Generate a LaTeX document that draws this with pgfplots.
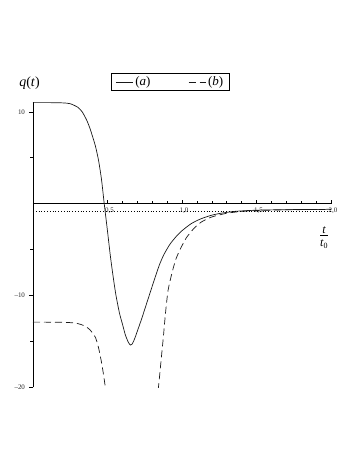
\documentclass[border=0pt]{standalone}
\usepackage{fontspec}
\setmainfont{Liberation Serif}
\usepackage{pgfplots}
\pgfplotsset{compat=1.18}
\begin{document}
\begin{tikzpicture}
\path[use as bounding box] (0,0) rectangle (359bp,464bp);
\begin{axis}[
  name=ax,
  scale only axis,
  width=298bp, height=285.6bp,
  at={(33bp,76.7bp)}, anchor=south west,
  axis lines=middle,
  axis line style={-, line width=0.6bp},
  xmin=0, xmax=2, ymin=-20, ymax=11.1,
  xtick={0.5,1,1.5,2},
  xticklabels={{0,5},{1,0},{1,5},{2,0}},
  minor x tick num=4,
  ytick={-20,-10,0,10},
  yticklabels={–20,–10,0,10},
  minor ytick={-15,-5,5},
  xtick align=inside,
  ytick align=outside,
  major tick length=4bp,
  minor tick length=2.5bp,
  tick style={line width=0.5bp, black},
  /pgf/number format/assume math mode=true,
  tick label style={font=\fontsize{7}{8}\selectfont, text=black!85},
  xticklabel style={yshift=-1bp, xshift=2bp},
  yticklabel style={xshift=-0.5bp},
  xlabel={\fontsize{12}{13}\selectfont\begin{tabular}{@{}c@{}}\textit{t}\\[-2pt]\hline\rule{0pt}{11pt}\textit{t}\textsubscript{0}\end{tabular}},
  xlabel style={at={(rel axis cs:0.977,0.526)}, anchor=center},
  legend columns=2,
  legend style={at={(0.461,1.069)}, anchor=center, draw=black, line width=0.6bp,
    font=\fontsize{13}{14}\selectfont, inner xsep=4.5pt, inner ysep=1pt,
    /tikz/every even column/.append style={column sep=36bp}},
  legend image code/.code={\draw[#1] (0bp,0bp) -- (17bp,0bp);},
  clip mode=individual,
]
\addplot[black!90, line width=0.7bp, smooth, tension=0.4] coordinates {
(0,11) (0.1,11) (0.2,10.97) (0.25,10.88) (0.3,10.5) (0.33,10.0) (0.36,9.1) (0.38,8.3) (0.4,7.3) (0.42,6.2) (0.44,4.7) (0.46,2.6) (0.478,0) (0.5,-3) (0.52,-5.8) (0.54,-8.2) (0.557,-10) (0.58,-11.9) (0.6,-13.1) (0.62,-14.3) (0.64,-15.1) (0.654,-15.4) (0.665,-15.3) (0.68,-14.8) (0.7,-13.9) (0.73,-12.5) (0.76,-11.0) (0.79,-9.5) (0.82,-8.0) (0.85,-6.6) (0.88,-5.5) (0.92,-4.4) (0.96,-3.6) (1.0,-2.95) (1.06,-2.2) (1.12,-1.7) (1.19,-1.3) (1.26,-1.05) (1.35,-0.85) (1.46,-0.74) (1.6,-0.68) (1.8,-0.64) (2.0,-0.62)
};
\addlegendentry{(\textit{a})}
\addplot[black!90, line width=0.7bp, dash pattern=on 7bp off 4bp, smooth, tension=0.4] coordinates {
(0,-12.9) (0.2,-12.92) (0.28,-13.0) (0.32,-13.15) (0.35,-13.35) (0.38,-13.7) (0.4,-14.1) (0.42,-14.6) (0.44,-15.7) (0.46,-17.3) (0.475,-18.8) (0.487,-20.2) (0.495,-21.5)
};
\addlegendentry{(\textit{b})}
\addplot[black!90, line width=0.7bp, dash pattern=on 7bp off 4bp, smooth, tension=0.4, forget plot] coordinates {
(0.83,-21.5) (0.844,-19.7) (0.86,-17) (0.875,-14.5) (0.89,-11.8) (0.907,-9.4) (0.935,-7.4) (0.96,-6.0) (0.99,-4.9) (1.03,-3.7) (1.08,-2.7) (1.13,-2.0) (1.2,-1.45) (1.3,-1.05) (1.4,-0.85) (1.5,-0.75) (1.7,-0.67) (2.0,-0.63)
};
\addplot[black, line width=1bp, dash pattern=on 1bp off 1.8bp, forget plot] coordinates {(0,-0.9) (2,-0.9)};
\end{axis}
\node[font=\fontsize{14}{15}\selectfont, anchor=center] at (29.5bp,381bp) {\textit{q}(\textit{t})};
\end{tikzpicture}
\end{document}
